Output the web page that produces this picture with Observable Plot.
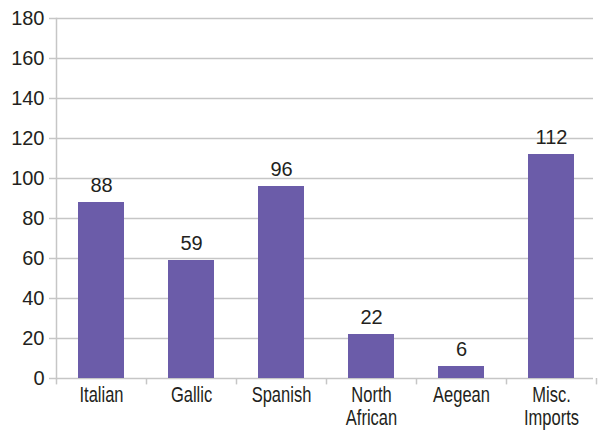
<!DOCTYPE html>
<html>
<head>
<meta charset="utf-8">
<script src="https://cdn.jsdelivr.net/npm/d3@7"></script>
<script src="https://cdn.jsdelivr.net/npm/@observablehq/plot@0.6"></script>
<style>
  html, body { margin: 0; padding: 0; background: #fff; }
  #chart svg { display: block; }
</style>
</head>
<body>
<div id="chart"></div>
<script>
const categories = ["Italian", "Gallic", "Spanish", "North African", "Aegean", "Misc. Imports"];
const labels = ["Italian", "Gallic", "Spanish", "North\nAfrican", "Aegean", "Misc.\nImports"];
const values = [88, 59, 96, 22, 6, 112];
const yTicks = [0, 20, 40, 60, 80, 100, 120, 140, 160, 180];

const data = categories.map((c, i) => ({category: c, label: labels[i], value: values[i]}));

const barColor = "#6b5ca9";
const gridColor = "#c6c6c6";
const textColor = "#231f20";

const chart = Plot.plot({
  width: 602,
  height: 431,
  marginLeft: 56,
  marginRight: 6,
  marginTop: 18,
  marginBottom: 53,
  style: {fontFamily: "Liberation Sans, Arial, sans-serif", color: textColor, background: "#fff"},
  x: {domain: categories, paddingInner: 0.489, paddingOuter: 0.2445, axis: null},
  y: {domain: [0, 180], axis: null},
  marks: [
    Plot.ruleY(yTicks, {stroke: gridColor, strokeWidth: 1.5, strokeOpacity: 1, insetRight: 3}),
    Plot.frame({anchor: "left", stroke: gridColor, strokeWidth: 1.5, strokeOpacity: 1}),
    Plot.barY(data, {x: "category", y: "value", fill: barColor}),
    Plot.axisY({ticks: yTicks, tickSize: 7, tickPadding: 5, stroke: gridColor, strokeWidth: 1.5, strokeOpacity: 1, fontSize: 20, fill: textColor, label: null}),
    Plot.ruleX(data, {x: "category", dx: -45, y1: 0, y2: -3.2, stroke: gridColor, strokeWidth: 1.5}),
    Plot.ruleX(data.slice(-1), {x: "category", dx: 45, y1: 0, y2: -3.2, stroke: gridColor, strokeWidth: 1.5}),
    Plot.text(data, {x: "category", y: "value", text: d => String(d.value), lineAnchor: "bottom", dy: -11, fontSize: 20, fill: textColor}),
    Plot.text(data, {x: "category", y: 0, text: "label", lineAnchor: "top", dy: 7, fontSize: 22, lineHeight: 1.06, fill: textColor, className: "xlab"})
  ]
});
document.getElementById("chart").append(chart);
// condense the category labels horizontally (condensed face is not installed)
d3.select(chart).selectAll("g.xlab text").each(function() {
  const t = this.getAttribute("transform") || "";
  this.setAttribute("transform", t + " scale(0.75,1)");
});
</script>
</body>
</html>
